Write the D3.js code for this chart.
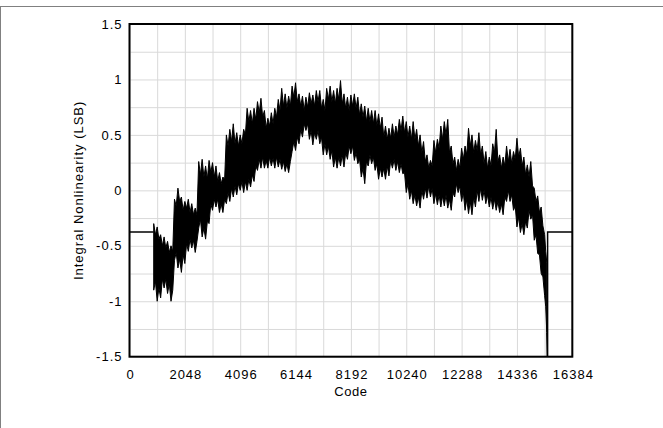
<!DOCTYPE html>
<html><head><meta charset="utf-8">
<script src="https://cdn.jsdelivr.net/npm/d3@7"></script>
<style>body{margin:0;background:#fff;} svg{display:block;}</style>
</head><body><svg id="c" width="663" height="428"></svg>
<script>
// ---- data ----
const xTickValues = [0, 2048, 4096, 6144, 8192, 10240, 12288, 14336, 16384];
const yTickValues = [-1.5, -1, -0.5, 0, 0.5, 1, 1.5];
const xGridValues = [0,1024,2048,3072,4096,5120,6144,7168,8192,9216,10240,11264,12288,13312,14336,15360,16384];
const yGridValues = [-1.5,-1.25,-1,-0.75,-0.5,-0.25,0,0.25,0.5,0.75,1,1.25,1.5];

// envelope of the INL band: spike tips at these codes
const bandCodes = [896,1024,1152,1280,1408,1536,1664,1792,1920,2048,
 2176,2304,2432,2560,2688,2816,2944,3072,3200,3328,
 3456,3584,3712,3840,3968,4096,4224,4352,4480,4608,
 4736,4864,4992,5120,5248,5376,5504,5632,5760,5888,
 6016,6144,6272,6400,6528,6656,6784,6912,7040,7168,
 7296,7424,7552,7680,7808,7936,8064,8192,8320,8448,
 8576,8704,8832,8960,9088,9216,9344,9472,9600,9728,
 9856,9984,10112,10240,10368,10496,10624,10752,10880,11008,
 11136,11264,11392,11520,11648,11776,11904,12032,12160,12288,
 12416,12544,12672,12800,12928,13056,13184,13312,13440,13568,
 13696,13824,13952,14080,14208,14336,14464,14592,14720,14848,
 14976,15104,15232,15360,15440];
const bandUpper = [-0.30,-0.33,-0.40,-0.42,-0.46,-0.50,-0.08,0.02,-0.06,-0.10,
 -0.08,-0.12,-0.16,0.26,0.28,0.22,0.27,0.25,0.22,0.16,
 0.12,0.50,0.55,0.60,0.52,0.50,0.55,0.74,0.72,0.74,
 0.80,0.83,0.72,0.65,0.70,0.74,0.82,0.92,0.87,0.85,
 0.94,0.97,0.87,0.85,0.84,0.88,0.86,0.90,0.90,0.82,
 0.92,0.94,0.90,0.92,0.99,0.87,0.84,0.86,0.87,0.84,
 0.78,0.76,0.74,0.72,0.72,0.69,0.66,0.58,0.56,0.60,
 0.58,0.64,0.67,0.62,0.58,0.62,0.55,0.50,0.44,0.32,
 0.27,0.45,0.46,0.58,0.62,0.64,0.40,0.30,0.28,0.38,
 0.40,0.56,0.50,0.45,0.52,0.40,0.35,0.30,0.42,0.55,
 0.32,0.30,0.40,0.37,0.35,0.47,0.38,0.30,0.23,0.26,
 0.02,-0.05,-0.15,-0.40,-0.65];
const bandLower = [-0.90,-1.00,-0.97,-0.88,-0.93,-1.00,-0.63,-0.70,-0.74,-0.66,
 -0.55,-0.52,-0.56,-0.34,-0.42,-0.44,-0.30,-0.18,-0.15,-0.20,
 -0.20,-0.12,-0.10,-0.06,-0.04,0.00,-0.02,0.00,0.03,0.08,
 0.18,0.20,0.20,0.20,0.22,0.20,0.21,0.19,0.17,0.16,
 0.35,0.36,0.42,0.48,0.54,0.46,0.41,0.46,0.42,0.32,
 0.32,0.28,0.21,0.20,0.22,0.21,0.28,0.33,0.27,0.24,
 0.12,0.06,0.22,0.24,0.18,0.10,0.12,0.10,0.13,0.20,
 0.18,0.16,0.15,-0.02,-0.08,-0.12,-0.14,-0.16,-0.08,-0.07,
 -0.06,-0.12,-0.13,-0.15,-0.14,-0.16,-0.18,-0.06,-0.02,-0.10,
 -0.18,-0.21,-0.22,-0.15,-0.10,-0.09,-0.12,-0.15,-0.17,-0.18,
 -0.20,-0.22,-0.10,-0.10,-0.18,-0.33,-0.38,-0.40,-0.34,-0.26,
 -0.45,-0.57,-0.75,-0.95,-1.28];
// valleys between neighbouring spike tips (one per gap)
const bandUpperValley = [-0.40,-0.44,-0.50,-0.52,-0.56,-0.55,-0.14,-0.10,-0.18,-0.16,
 -0.20,-0.22,-0.22,0.14,0.12,0.10,0.16,0.12,0.08,0.06,
 0.10,0.40,0.44,0.42,0.40,0.42,0.50,0.62,0.60,0.64,
 0.70,0.66,0.56,0.58,0.60,0.66,0.72,0.76,0.74,0.76,
 0.84,0.80,0.76,0.72,0.75,0.78,0.76,0.80,0.74,0.72,
 0.82,0.80,0.78,0.82,0.78,0.74,0.72,0.76,0.74,0.68,
 0.66,0.62,0.62,0.60,0.58,0.56,0.48,0.46,0.47,0.48,
 0.50,0.54,0.52,0.48,0.46,0.46,0.40,0.34,0.26,0.20,
 0.22,0.34,0.38,0.46,0.50,0.34,0.24,0.18,0.20,0.28,
 0.32,0.40,0.34,0.36,0.32,0.24,0.20,0.22,0.34,0.26,
 0.20,0.22,0.26,0.24,0.28,0.30,0.22,0.14,0.12,0.04,
 -0.10,-0.20,-0.32,-0.55];
const bandLowerValley = [-0.82,-0.88,-0.80,-0.80,-0.84,-0.90,-0.56,-0.62,-0.58,-0.48,
 -0.44,-0.45,-0.46,-0.26,-0.34,-0.28,-0.12,-0.08,-0.08,-0.12,
 -0.08,-0.02,0.02,0.04,0.06,0.08,0.08,0.10,0.14,0.22,
 0.28,0.30,0.27,0.30,0.29,0.30,0.28,0.26,0.24,0.26,
 0.44,0.48,0.55,0.60,0.60,0.54,0.52,0.54,0.48,0.42,
 0.40,0.36,0.30,0.30,0.32,0.34,0.40,0.40,0.34,0.28,
 0.20,0.26,0.32,0.30,0.24,0.20,0.20,0.22,0.27,0.28,
 0.26,0.24,0.16,0.06,0.00,-0.04,-0.06,0.00,0.02,0.04,
 0.02,-0.03,-0.04,-0.05,-0.04,-0.08,-0.02,0.06,0.04,-0.02,
 -0.08,-0.10,-0.06,0.00,0.02,0.00,-0.04,-0.06,-0.08,-0.10,
 -0.12,-0.06,0.00,-0.04,-0.14,-0.24,-0.30,-0.28,-0.18,-0.22,
 -0.40,-0.58,-0.78,-1.05];

const leftCodes = [0, 896];
const leftValues = [-0.375, -0.375];
const tailCodes = [15440, 15470, 15470, 16384];
const tailValues = [-1.28, -1.65, -0.375, -0.375];

// ---- layout ----
const L = 129.5, R = 572.3, T = 24, B = 356.7;
const svg = d3.select("#c");
const x = d3.scaleLinear().domain([0, 16384]).range([L, R]);
const y = d3.scaleLinear().domain([-1.5, 1.5]).range([B, T]);
const font = "'Liberation Sans', Arial, sans-serif";

// page frame lines
svg.append("line").attr("x1", 0).attr("x2", 663).attr("y1", 6.5).attr("y2", 6.5)
  .attr("stroke", "#808080").attr("stroke-width", 1);
svg.append("line").attr("x1", 0.5).attr("x2", 0.5).attr("y1", 6).attr("y2", 428)
  .attr("stroke", "#808080").attr("stroke-width", 1);

// grid
const gx = svg.append("g").attr("transform", `translate(0,${B})`)
  .call(d3.axisBottom(x).tickValues(xGridValues).tickSize(-(B - T)).tickFormat(""));
const gy = svg.append("g").attr("transform", `translate(${L},0)`)
  .call(d3.axisLeft(y).tickValues(yGridValues).tickSize(-(R - L)).tickFormat(""));
[gx, gy].forEach(g => {
  g.select(".domain").remove();
  g.selectAll("line").attr("stroke", "#d9d9d9").attr("stroke-width", 1);
});

// clip
svg.append("clipPath").attr("id", "clip").append("rect")
  .attr("x", L).attr("y", T).attr("width", R - L).attr("height", B - T);

// build band: tips interleaved with valleys; upper and lower tips are offset
const upperPts = [], lowerPts = [];
bandCodes.forEach((c, i) => {
  upperPts.push([c, bandUpper[i]]);
  lowerPts.push([c, bandLower[i]]);
  if (i < bandCodes.length - 1) {
    const m = (c + bandCodes[i + 1]) / 2;
    upperPts.push([m, bandUpperValley[i]]);
    lowerPts.push([m, bandLowerValley[i]]);
  }
});
const line = d3.line().x(d => x(d[0])).y(d => y(d[1]));
// closed outline: along the upper envelope, back along the lower envelope
const outline = upperPts.concat(lowerPts.slice().reverse());

const plot = svg.append("g").attr("clip-path", "url(#clip)");
plot.append("path").datum(outline).attr("d", d => line(d) + "Z")
  .attr("fill", "#000").attr("stroke", "#000").attr("stroke-width", 1).attr("stroke-linejoin", "miter");
plot.append("path").datum(d3.zip(leftCodes, leftValues)).attr("d", line)
  .attr("fill", "none").attr("stroke", "#000").attr("stroke-width", 1.5);
plot.append("path").datum(d3.zip(tailCodes, tailValues)).attr("d", line)
  .attr("fill", "none").attr("stroke", "#000").attr("stroke-width", 1.5);

// border
svg.append("rect").attr("x", L).attr("y", T).attr("width", R - L).attr("height", B - T)
  .attr("fill", "none").attr("stroke", "#000").attr("stroke-width", 2);

// tick labels via axes
const ax = svg.append("g").attr("transform", `translate(0,${B})`)
  .call(d3.axisBottom(x).tickValues(xTickValues).tickSize(0).tickPadding(13).tickFormat(d => String(d)));
const ay = svg.append("g").attr("transform", `translate(${L},0)`)
  .call(d3.axisLeft(y).tickValues(yTickValues).tickSize(0).tickPadding(7).tickFormat(d => String(d)));
[ax, ay].forEach(g => {
  g.select(".domain").remove();
  g.selectAll("text").attr("font-family", font).attr("font-size", 13)
    .attr("letter-spacing", "1px").attr("fill", "#000");
});
ax.selectAll("text").attr("dx", "0.5px");

// axis titles
svg.append("text").attr("x", (L + R) / 2).attr("y", 396).attr("text-anchor", "middle")
  .attr("font-family", font).attr("font-size", 13).attr("letter-spacing", "0.5px").text("Code");
svg.append("text").attr("transform", `translate(83,${(T + B) / 2}) rotate(-90)`)
  .attr("text-anchor", "middle").attr("font-family", font).attr("font-size", 13)
  .attr("letter-spacing", "1px").text("Integral Nonlinearity (LSB)");
</script></body></html>
